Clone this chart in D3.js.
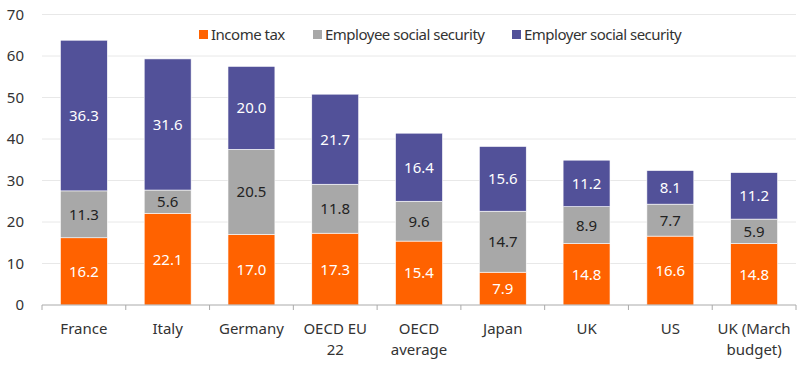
<!DOCTYPE html>
<html>
<head>
<meta charset="utf-8">
<script src="https://cdn.jsdelivr.net/npm/d3@7"></script>
<style>
  body { margin: 0; background: #fff; }
  svg { font-family: "Noto Sans", "Lato", sans-serif; }
</style>
</head>
<body>
<svg width="800" height="365"></svg>
<script>
const categories = ["France", "Italy", "Germany", "OECD EU 22", "OECD average", "Japan", "UK", "US", "UK (March budget)"];
const categoryLines = [["France"], ["Italy"], ["Germany"], ["OECD EU", "22"], ["OECD", "average"], ["Japan"], ["UK"], ["US"], ["UK (March", "budget)"]];
const seriesNames = ["Income tax", "Employee social security", "Employer social security"];
const incomeTax = [16.2, 22.1, 17.0, 17.3, 15.4, 7.9, 14.8, 16.6, 14.8];
const employeeSS = [11.3, 5.6, 20.5, 11.8, 9.6, 14.7, 8.9, 7.7, 5.9];
const employerSS = [36.3, 31.6, 20.0, 21.7, 16.4, 15.6, 11.2, 8.1, 11.2];
const yTicks = [0, 10, 20, 30, 40, 50, 60, 70];

const colors = ["#ff6200", "#a8a8a8", "#525199"];
const labelColors = ["#fff", "#222", "#fff"];

const svg = d3.select("svg");
const margin = { top: 14.5, right: 4, bottom: 60, left: 42 };
const width = 800 - margin.left - margin.right;
const height = 365 - margin.top - margin.bottom;

const g = svg.append("g")
  .attr("transform", `translate(${margin.left},${margin.top})`);

const rows = categories.map((c, i) => ({
  cat: c, "Income tax": incomeTax[i],
  "Employee social security": employeeSS[i],
  "Employer social security": employerSS[i]
}));
const stacked = d3.stack().keys(seriesNames)(rows);

const x = d3.scaleBand().domain(categories).range([0, width]).paddingInner(0.44).paddingOuter(0.22);
const y = d3.scaleLinear().domain([0, 70]).range([height, 0]);

// grid
g.selectAll(".grid")
  .data(yTicks.slice(1))
  .enter().append("line")
  .attr("x1", 0).attr("x2", width)
  .attr("y1", d => y(d)).attr("y2", d => y(d))
  .attr("stroke", "#e8e8e8").attr("stroke-width", 1);

// y axis labels
g.selectAll(".ytick")
  .data(yTicks)
  .enter().append("text")
  .attr("x", -18).attr("y", d => y(d))
  .attr("dy", "0.35em")
  .attr("text-anchor", "end")
  .attr("font-size", 15).attr("fill", "#333")
  .text(d => d);

// bars
const layers = g.selectAll(".layer")
  .data(stacked)
  .enter().append("g")
  .attr("fill", (d, i) => colors[i]);

layers.selectAll("rect")
  .data(d => d)
  .enter().append("rect")
  .attr("x", d => x(d.data.cat))
  .attr("y", d => y(d[1]))
  .attr("width", x.bandwidth())
  .attr("height", d => y(d[0]) - y(d[1]))
  .attr("stroke", "#fff").attr("stroke-width", 0.6);

layers.each(function(layer, li) {
  d3.select(this).selectAll("text")
    .data(layer)
    .enter().append("text")
    .attr("x", d => x(d.data.cat) + x.bandwidth() / 2)
    .attr("y", d => y((d[0] + d[1]) / 2))
    .attr("dy", "0.36em")
    .attr("text-anchor", "middle")
    .attr("font-size", 15)
    .attr("fill", labelColors[li])
    .text(d => (d[1] - d[0]).toFixed(1));
});

// x axis
const xAxis = g.append("g").attr("transform", `translate(0,${height})`);
xAxis.append("line")
  .attr("x1", 0).attr("x2", width)
  .attr("stroke", "#aaa");
const step = x.step();
xAxis.selectAll(".tick")
  .data(d3.range(categories.length + 1))
  .enter().append("line")
  .attr("x1", i => i * step).attr("x2", i => i * step)
  .attr("y1", 0).attr("y2", 5)
  .attr("stroke", "#aaa");
xAxis.selectAll(".lbl")
  .data(categories)
  .enter().append("text")
  .attr("text-anchor", "middle")
  .attr("font-size", 15).attr("fill", "#333")
  .attr("transform", d => `translate(${x(d) + x.bandwidth() / 2},0)`)
  .each(function(d, i) {
    categoryLines[i].forEach((line, k) => {
      d3.select(this).append("tspan")
        .attr("x", 0).attr("y", 29 + k * 21)
        .text(line);
    });
  });

// legend
const legendX = [199, 313, 512];
const legend = svg.selectAll(".legend")
  .data(seriesNames)
  .enter().append("g")
  .attr("transform", (d, i) => `translate(${legendX[i]},35)`);
legend.append("rect")
  .attr("x", 0).attr("y", -5).attr("width", 9).attr("height", 9)
  .attr("fill", (d, i) => colors[i]);
legend.append("text")
  .attr("x", 12).attr("dy", "0.35em")
  .attr("font-size", 15).attr("fill", "#333")
  .attr("letter-spacing", -0.5)
  .text(d => d);
</script>
</body>
</html>
